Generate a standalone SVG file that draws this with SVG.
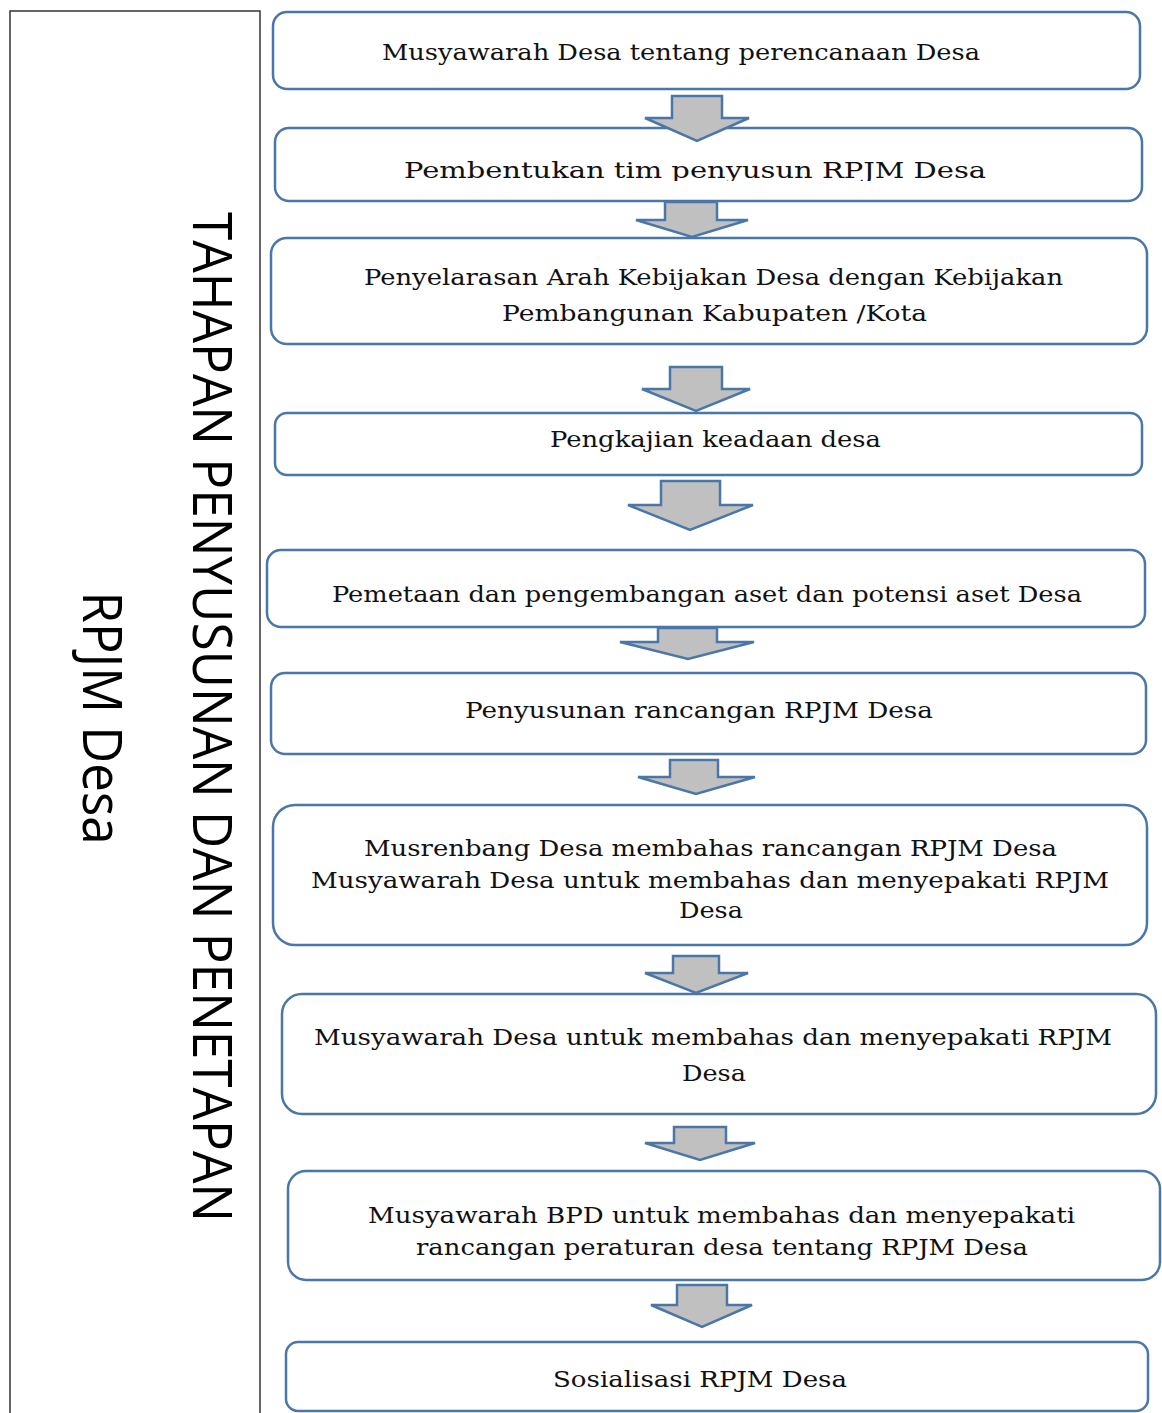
<svg xmlns="http://www.w3.org/2000/svg" width="1162" height="1413" viewBox="0 0 1162 1413">
<style>
.box{fill:#fff;stroke:#4a76a8;stroke-width:2.5}
.arr{fill:#c0c0c0;stroke:#4a76a8;stroke-width:2.5;stroke-linejoin:miter}
.t{font-family:"DejaVu Serif","Liberation Serif",serif;font-size:22px;fill:#111;text-anchor:start}
.side{font-family:"Open Sans","Noto Sans",sans-serif;fill:#000}
</style>
<defs>
<clipPath id="clip2"><rect x="275" y="128" width="867" height="53"/></clipPath>
</defs>
<rect width="1162" height="1413" fill="#fff"/>
<g id="side">
<rect x="10" y="11" width="250" height="1420" fill="#fff" stroke="#333" stroke-width="1.5"/>
<text class="side" transform="translate(193,717) rotate(90)" text-anchor="middle" font-size="54" textLength="1010" lengthAdjust="spacingAndGlyphs">TAHAPAN PENYUSUNAN DAN PENETAPAN</text>
<text class="side" transform="translate(83,718) rotate(90)" text-anchor="middle" font-size="54" textLength="253" lengthAdjust="spacingAndGlyphs">RPJM Desa</text>
</g>
<g id="n1">
<rect class="box" x="273" y="12" width="867" height="77" rx="14"/>
<text class="t" x="382" y="60" textLength="598" lengthAdjust="spacingAndGlyphs">Musyawarah Desa tentang perencanaan Desa</text>
</g>
<g id="n2">
<rect class="box" x="275" y="128" width="867" height="73" rx="14"/>
<text class="t" x="404" y="178" font-size="26" textLength="582" lengthAdjust="spacingAndGlyphs" clip-path="url(#clip2)">Pembentukan tim penyusun RPJM Desa</text>
</g>
<g id="n3">
<rect class="box" x="271" y="238" width="876" height="106" rx="16"/>
<text class="t" x="364" y="285" textLength="699" lengthAdjust="spacingAndGlyphs">Penyelarasan Arah Kebijakan Desa dengan Kebijakan</text>
<text class="t" x="502" y="321" textLength="425" lengthAdjust="spacingAndGlyphs">Pembangunan Kabupaten /Kota</text>
</g>
<g id="n4">
<rect class="box" x="275" y="413" width="867" height="62" rx="12"/>
<text class="t" x="550" y="447" textLength="331" lengthAdjust="spacingAndGlyphs">Pengkajian keadaan desa</text>
</g>
<g id="n5">
<rect class="box" x="267" y="550" width="878" height="77" rx="14"/>
<text class="t" x="332" y="602" textLength="750" lengthAdjust="spacingAndGlyphs">Pemetaan dan pengembangan aset dan potensi aset Desa</text>
</g>
<g id="n6">
<rect class="box" x="271" y="673" width="875" height="81" rx="14"/>
<text class="t" x="465" y="718" textLength="468" lengthAdjust="spacingAndGlyphs">Penyusunan rancangan RPJM Desa</text>
</g>
<g id="n7">
<rect class="box" x="273" y="805" width="874" height="140" rx="22"/>
<text class="t" x="364" y="856" textLength="693" lengthAdjust="spacingAndGlyphs">Musrenbang Desa membahas rancangan RPJM Desa</text>
<text class="t" x="311" y="888" textLength="798" lengthAdjust="spacingAndGlyphs">Musyawarah Desa untuk membahas dan menyepakati RPJM</text>
<text class="t" x="679" y="918" textLength="64" lengthAdjust="spacingAndGlyphs">Desa</text>
</g>
<g id="n8">
<rect class="box" x="282" y="994" width="874" height="120" rx="20"/>
<text class="t" x="314" y="1045" textLength="798" lengthAdjust="spacingAndGlyphs">Musyawarah Desa untuk membahas dan menyepakati RPJM</text>
<text class="t" x="682" y="1081" textLength="64" lengthAdjust="spacingAndGlyphs">Desa</text>
</g>
<g id="n9">
<rect class="box" x="288" y="1171" width="872" height="109" rx="18"/>
<text class="t" x="368" y="1223" textLength="707" lengthAdjust="spacingAndGlyphs">Musyawarah BPD untuk membahas dan menyepakati</text>
<text class="t" x="416" y="1255" textLength="612" lengthAdjust="spacingAndGlyphs">rancangan peraturan desa tentang RPJM Desa</text>
</g>
<g id="n10">
<rect class="box" x="286" y="1342" width="862" height="69" rx="12"/>
<text class="t" x="553" y="1387" textLength="294" lengthAdjust="spacingAndGlyphs">Sosialisasi RPJM Desa</text>
</g>
<g id="connectors">
<path class="arr" d="M672,96 L722,96 L722,118 L749,118 L697,141 L645,118 L672,118 Z"/>
<path class="arr" d="M665,202 L717,202 L717,220 L748,220 L692,237 L636,220 L665,220 Z"/>
<path class="arr" d="M670,367 L722,367 L722,389 L750,389 L696,411 L642,389 L670,389 Z"/>
<path class="arr" d="M661,481 L720,481 L720,505 L753,505 L690,530 L628,505 L661,505 Z"/>
<path class="arr" d="M658,628 L717,628 L717,642 L754,642 L688,659 L620,642 L658,642 Z"/>
<path class="arr" d="M670,760 L718,760 L718,777 L755,777 L696,794 L638,777 L670,777 Z"/>
<path class="arr" d="M673,956 L719,956 L719,973 L748,973 L696,993 L645,973 L673,973 Z"/>
<path class="arr" d="M674,1127 L726,1127 L726,1143 L755,1143 L700,1160 L645,1143 L674,1143 Z"/>
<path class="arr" d="M677,1285 L727,1285 L727,1305 L752,1305 L702,1327 L651,1305 L677,1305 Z"/>
</g>
</svg>
